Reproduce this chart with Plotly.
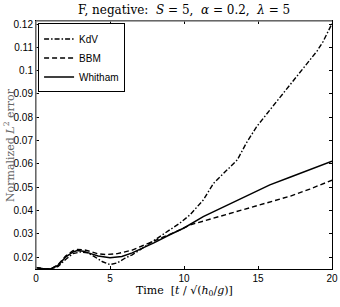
import plotly.graph_objects as go

# ---- data ----
t_whitham = [0, 0.5, 1.0, 1.5, 2.0, 2.5, 2.8, 3.2, 3.7, 4.2, 5.0, 5.8, 6.5, 7.2, 8.0,
             9.0, 10.0, 11.3, 12.5, 13.6, 14.9, 15.8, 17.2, 18.5, 20.0]
v_whitham = [0.0155, 0.0150, 0.0149, 0.0165, 0.0200, 0.0222, 0.0228, 0.0225, 0.0215,
             0.0205, 0.0197, 0.0203, 0.0218, 0.0237, 0.0262, 0.0295, 0.0325, 0.0374,
             0.0410, 0.0445, 0.0483, 0.0510, 0.0544, 0.0575, 0.0612]

t_bbm = [0, 0.5, 1.0, 1.5, 2.0, 2.5, 2.8, 3.2, 3.7, 4.2, 4.7, 5.5, 6.5, 7.5, 8.5,
         9.5, 10.4, 11.5, 12.5, 13.6, 14.9, 15.8, 17.2, 18.5, 19.7, 20.0]
v_bbm = [0.0155, 0.0150, 0.0149, 0.0168, 0.0205, 0.0228, 0.0233, 0.0232, 0.0224,
         0.0214, 0.0211, 0.0215, 0.0230, 0.0257, 0.0282, 0.0310, 0.0338, 0.0358,
         0.0376, 0.0395, 0.0420, 0.0438, 0.0462, 0.0492, 0.0524, 0.0530]

t_kdv = [0, 0.5, 1.0, 1.5, 2.0, 2.5, 3.0, 3.5, 4.0, 4.5, 5.0, 5.5, 6.0, 6.5, 7.0,
         7.7, 8.4, 9.05, 9.7, 10.4, 11.3, 12.0, 12.9, 13.6, 14.2, 14.9, 15.8, 16.7,
         17.4, 18.0, 18.5, 19.0, 19.4, 20.0]
v_kdv = [0.0155, 0.0150, 0.0149, 0.0160, 0.0190, 0.0215, 0.0222, 0.0218, 0.0200,
         0.0180, 0.0168, 0.0175, 0.0195, 0.0210, 0.0230, 0.0260, 0.0288, 0.0317,
         0.0345, 0.0381, 0.0445, 0.0517, 0.0574, 0.0617, 0.0688, 0.0759, 0.0831,
         0.0902, 0.0960, 0.1005, 0.1045, 0.1085, 0.1125, 0.1202]

x_ticks = [0, 5, 10, 15, 20]
y_ticks = [0.02, 0.03, 0.04, 0.05, 0.06, 0.07, 0.08, 0.09, 0.10, 0.11, 0.12]
y_tick_labels = ["0.02", "0.03", "0.04", "0.05", "0.06", "0.07", "0.08", "0.09",
                 "0.1", "0.11", "0.12"]

SERIF = "DejaVu Serif, Liberation Serif, serif"

fig = go.Figure()
fig.add_trace(go.Scatter(x=t_kdv, y=v_kdv, mode="lines", name="KdV",
                         line=dict(color="black", width=1.4, dash="5px,2px,1.5px,2px")))
fig.add_trace(go.Scatter(x=t_bbm, y=v_bbm, mode="lines", name="BBM",
                         line=dict(color="black", width=1.4, dash="5px,3px")))
fig.add_trace(go.Scatter(x=t_whitham, y=v_whitham, mode="lines", name="Whitham",
                         line=dict(color="black", width=1.5)))

fig.update_layout(
    width=340, height=307,
    margin=dict(l=36, r=8, t=21, b=38, autoexpand=False),
    paper_bgcolor="white", plot_bgcolor="white",
    font=dict(family="Liberation Sans, Arial, sans-serif", size=10, color="black"),
    showlegend=True,
    legend=dict(x=0.007, y=0.99, xanchor="left", yanchor="top",
                bgcolor="white", bordercolor="black", borderwidth=1,
                font=dict(size=10), itemwidth=30, tracegroupgap=0,
                traceorder="normal"),
    xaxis=dict(range=[0, 20], tickvals=x_ticks, ticks="inside", ticklen=3,
               tickcolor="black", showline=True, linecolor="black", linewidth=1,
               mirror="ticks", showgrid=False, zeroline=False, automargin=False),
    yaxis=dict(range=[0.0149, 0.1213], tickvals=y_ticks, ticktext=y_tick_labels,
               ticks="inside", ticklen=3, tickcolor="black", showline=True,
               linecolor="black", linewidth=1, mirror="ticks", showgrid=False,
               zeroline=False, automargin=False),
)

# title and axis titles as annotations (pixel-placed like the reference)
fig.add_annotation(text="F, negative:  <i>S</i> = 5,  <i>α</i> = 0.2,  <i>λ</i> = 5",
                   xref="paper", yref="paper", x=0.5, y=1.0, yshift=11,
                   xanchor="center", yanchor="middle", showarrow=False,
                   font=dict(family=SERIF, size=12, color="black"))
fig.add_annotation(text="Time  [<i>t</i> / √(<i>h</i><sub>0</sub>/<i>g</i>)]",
                   xref="paper", yref="paper", x=0.5, y=0, yshift=-22,
                   xanchor="center", yanchor="middle", showarrow=False,
                   font=dict(family=SERIF, size=11, color="black"))
fig.add_annotation(text="Normalized <i>L</i><sup>2</sup> error",
                   xref="paper", yref="paper", x=0, y=0.5, xshift=-27,
                   xanchor="center", yanchor="middle", showarrow=False, textangle=-90,
                   font=dict(family=SERIF, size=11, color="#666666"))

# grey left and top borders as in the reference
fig.add_shape(type="line", xref="x domain", yref="y domain", x0=0, x1=0, y0=0, y1=1,
              line=dict(color="#8a8a8a", width=1.5))
fig.add_shape(type="line", xref="x domain", yref="y domain", x0=0, x1=1, y0=1, y1=1,
              line=dict(color="#8a8a8a", width=1.5))

fig.write_html("out.html",
               config={"displayModeBar": False},
               post_script="document.body.style.margin='0px';"
                           "document.body.style.overflow='hidden';")
